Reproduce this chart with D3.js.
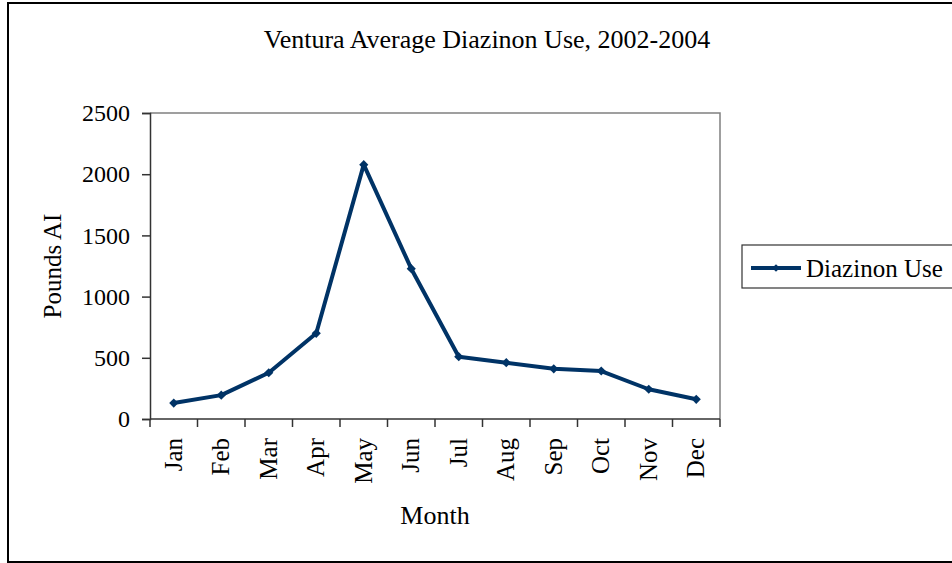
<!DOCTYPE html>
<html>
<head>
<meta charset="utf-8">
<script src="https://cdn.jsdelivr.net/npm/d3@7"></script>
<style>
  body { margin: 0; background: #fff; }
  text { font-family: "Liberation Serif", "Times New Roman", serif; fill: #000; }
</style>
</head>
<body>
<svg id="chart" width="952" height="563"></svg>
<script>
// data
var months = ["Jan", "Feb", "Mar", "Apr", "May", "Jun", "Jul", "Aug", "Sep", "Oct", "Nov", "Dec"];
var diazinonUse = [130, 195, 378, 700, 2078, 1228, 509, 460, 410, 392, 243, 161];
var yTicks = [0, 500, 1000, 1500, 2000, 2500];

var svg = d3.select("#chart");
var plotLeft = 150, plotRight = 720, plotTop = 113, plotBottom = 419;
var navy = "#003366";

// outer border
svg.append("rect")
    .attr("x", 8).attr("y", 3)
    .attr("width", 960).attr("height", 559)
    .attr("fill", "none")
    .attr("stroke", "#000")
    .attr("stroke-width", 2);

var x = d3.scaleBand().domain(months).range([plotLeft, plotRight]);
var y = d3.scaleLinear().domain([0, 2500]).range([plotBottom, plotTop]);

// plot frame (top and right are grey)
svg.append("path")
    .attr("d", "M" + plotLeft + "," + plotTop + "H" + plotRight + "V" + plotBottom)
    .attr("fill", "none")
    .attr("stroke", "#808080")
    .attr("stroke-width", 1.5);

// y axis
var yAxis = svg.append("g")
    .attr("transform", "translate(" + plotLeft + ",0)")
    .call(d3.axisLeft(y).tickValues(yTicks).tickSize(8).tickPadding(12).tickFormat(d3.format("d")));
yAxis.select(".domain").attr("stroke", "#333").attr("stroke-width", 1.5);
yAxis.selectAll(".tick line").attr("stroke", "#333").attr("stroke-width", 1.5);
yAxis.selectAll("text")
    .style("font-family", "Liberation Serif, serif")
    .style("font-size", "24px")
    .attr("fill", "#000");

// x axis, ticks between categories
var xAxis = svg.append("g")
    .attr("transform", "translate(0," + plotBottom + ")");
xAxis.append("line")
    .attr("x1", plotLeft).attr("x2", plotRight)
    .attr("stroke", "#333").attr("stroke-width", 1.5);
xAxis.selectAll(".sep")
    .data(months.concat(["end"]))
    .enter()
    .append("line")
    .attr("class", "sep")
    .attr("x1", (d, i) => plotLeft + i * x.step())
    .attr("x2", (d, i) => plotLeft + i * x.step())
    .attr("y1", 0).attr("y2", 8)
    .attr("stroke", "#333").attr("stroke-width", 1.5);
xAxis.selectAll(".lbl")
    .data(months)
    .enter()
    .append("text")
    .attr("class", "lbl")
    .attr("transform", d => "translate(" + (x(d) + x.bandwidth() / 2 + 8) + ",19) rotate(-90)")
    .attr("text-anchor", "end")
    .style("font-size", "25px")
    .text(d => d);

// line
var line = d3.line()
    .x((d, i) => x(months[i]) + x.bandwidth() / 2)
    .y(d => y(d));

svg.append("path")
    .datum(diazinonUse)
    .attr("d", line)
    .attr("fill", "none")
    .attr("stroke", navy)
    .attr("stroke-width", 4)
    .attr("stroke-linejoin", "round");

// square turned 45deg, like excel's diamond marker
var diamond = d3.symbol().type(d3.symbolSquare).size(42);
svg.selectAll(".pt")
    .data(diazinonUse)
    .enter()
    .append("path")
    .attr("class", "pt")
    .attr("d", diamond)
    .attr("transform", (d, i) => "translate(" + (x(months[i]) + x.bandwidth() / 2) + "," + y(d) + ") rotate(45)")
    .attr("fill", navy);

// title and axis labels
svg.append("text")
    .attr("x", 487).attr("y", 48)
    .attr("text-anchor", "middle")
    .style("font-size", "26px")
    .text("Ventura Average Diazinon Use, 2002-2004");

svg.append("text")
    .attr("transform", "translate(61," + ((plotTop + plotBottom) / 2) + ") rotate(-90)")
    .attr("text-anchor", "middle")
    .style("font-size", "25px")
    .text("Pounds AI");

svg.append("text")
    .attr("x", (plotLeft + plotRight) / 2).attr("y", 524)
    .attr("text-anchor", "middle")
    .style("font-size", "26px")
    .text("Month");

// legend
var legend = svg.append("g");
legend.append("rect")
    .attr("x", 742).attr("y", 245)
    .attr("width", 230).attr("height", 43)
    .attr("fill", "#fff")
    .attr("stroke", "#333")
    .attr("stroke-width", 1.2);
legend.append("line")
    .attr("x1", 751).attr("x2", 801)
    .attr("y1", 268).attr("y2", 268)
    .attr("stroke", navy).attr("stroke-width", 4);
legend.append("path")
    .attr("d", d3.symbol().type(d3.symbolSquare).size(30))
    .attr("transform", "translate(776,268) rotate(45)")
    .attr("fill", navy);
legend.append("text")
    .attr("x", 806).attr("y", 277)
    .style("font-size", "25px")
    .text("Diazinon Use");
</script>
</body>
</html>
